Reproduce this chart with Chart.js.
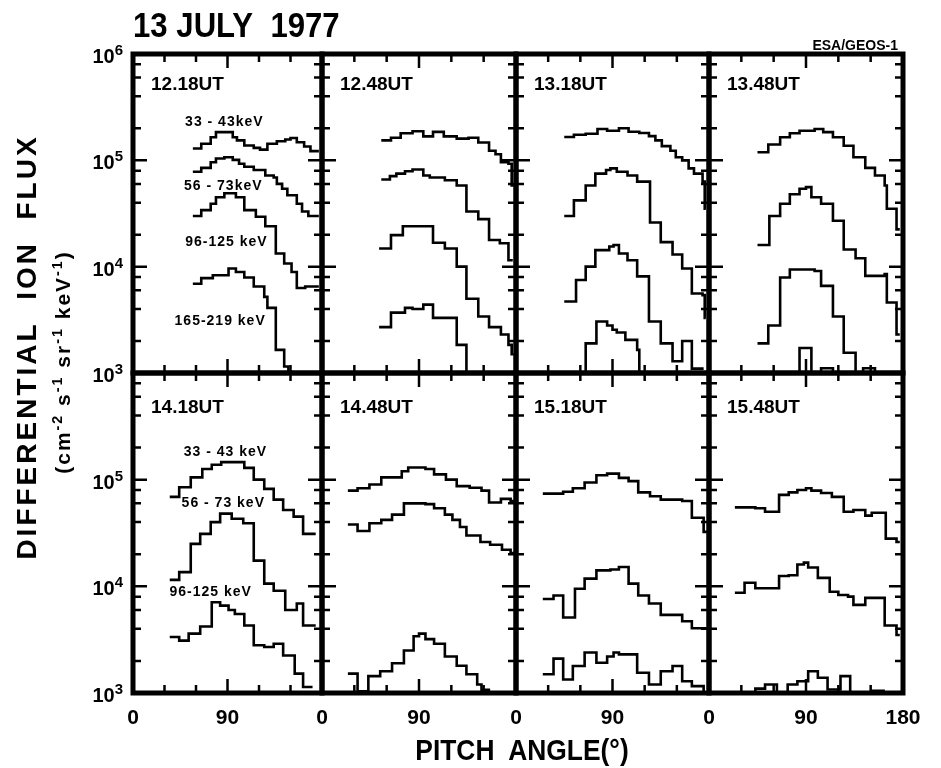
<!DOCTYPE html>
<html>
<head>
<meta charset="utf-8">
<title>13 July 1977 – differential ion flux vs pitch angle</title>
<script src="https://cdn.jsdelivr.net/npm/chart.js@4.4.1/dist/chart.umd.min.js"></script>
<style>
  html, body { margin: 0; padding: 0; background: #fff; }
  #wrap { position: relative; width: 941px; height: 768px; overflow: hidden;
          font-family: "Liberation Sans", Arial, sans-serif; color: #000; }
  #wrap canvas { position: absolute; left: 0; top: 0; }
  .t { position: absolute; white-space: nowrap; line-height: 1; font-weight: bold; }
  .t sup { font-size: 0.68em; vertical-align: 0.5em; line-height: 0; }
</style>
</head>
<body>
<div id="wrap">
  <div class="t" style="left:133px; top:7px; font-size:35px; transform:scaleX(0.89); transform-origin:0 0;">13 JULY&nbsp; 1977</div>
  <div class="t" style="right:43px; top:38px; font-size:14px;">ESA/GEOS-1</div>
  <div class="t" style="left:522px; top:735px; font-size:30px; transform:translateX(-50%) scaleX(0.88);">PITCH&nbsp; ANGLE(°)</div>
  <div class="t" style="left:27px; top:347px; font-size:28px; letter-spacing:3px; transform:translate(-50%,-50%) rotate(-90deg);">DIFFERENTIAL&nbsp; ION&nbsp; FLUX</div>
  <div class="t" style="left:62px; top:362px; font-size:21px; letter-spacing:2px; transform:translate(-50%,-50%) rotate(-90deg);">(cm<sup>-2</sup> s<sup>-1</sup> sr<sup>-1</sup> keV<sup>-1</sup>)</div>
</div>
<script>
// Differential ion flux (cm^-2 s^-1 sr^-1 keV^-1) against pitch angle (deg),
// one step curve per energy channel. Each entry: [bin start angle, flux];
// the last entry closes the final bin.

// 12.18 UT
const ut1218_e33  = [[57,1.29e5],[65,1.43e5],[74,1.65e5],[79,1.84e5],[95,1.65e5],[99,1.54e5],[106,1.38e5],[115,1.31e5],[121,1.26e5],[128,1.43e5],[137,1.51e5],[145,1.57e5],[150,1.62e5],[156,1.48e5],[163,1.35e5],[169,1.22e5],[177,1.22e5]];
const ut1218_e56  = [[57,7.8e4],[65,8.5e4],[74,9.6e4],[79,1.04e5],[87,1.07e5],[95,1.01e5],[101,9.3e4],[106,8.7e4],[115,8.1e4],[126,7.2e4],[134,6.9e4],[137,6.0e4],[142,5.4e4],[147,4.7e4],[156,3.9e4],[161,3.3e4],[167,3.0e4],[177,3.0e4]];
const ut1218_e96  = [[57,3.0e4],[65,3.4e4],[74,3.9e4],[79,4.5e4],[87,4.9e4],[98,4.5e4],[106,3.4e4],[117,2.95e4],[126,2.4e4],[136,1.33e4],[144,1.07e4],[151,8.9e3],[156,6.3e3],[164,6.5e3],[177,6.5e3]];
const ut1218_e165 = [[57,6.9e3],[65,7.8e3],[76,8.3e3],[91,9.6e3],[98,8.9e3],[106,7.9e3],[115,6.5e3],[125,5.2e3],[128,4.1e3],[136,1.65e3],[144,1.15e3],[148,1.02e3],[153,1.02e3]];

// 12.48 UT
const ut1248_e33  = [[55,1.54e5],[64,1.63e5],[73,1.8e5],[84,1.88e5],[94,1.68e5],[103,1.85e5],[113,1.68e5],[125,1.6e5],[136,1.63e5],[145,1.47e5],[155,1.23e5],[161,1.14e5],[166,9.6e4],[173,9.3e4],[176,5.8e4],[178,5.8e4]];
const ut1248_e56  = [[55,6.6e4],[63,7.1e4],[69,7.5e4],[77,7.9e4],[84,8.2e4],[94,7.2e4],[100,6.9e4],[114,6.5e4],[125,5.8e4],[134,3.3e4],[145,2.8e4],[155,1.78e4],[165,1.66e4],[173,1.15e4],[177,1.15e4]];
const ut1248_e96  = [[53,1.48e4],[64,1.98e4],[75,2.4e4],[103,1.68e4],[114,1.48e4],[125,1.0e4],[134,5.0e3],[145,3.4e3],[155,2.7e3],[166,2.3e3],[173,1.84e3],[176,1.5e3],[178,1.5e3]];
const ut1248_e165 = [[53,2.7e3],[64,3.7e3],[77,4.1e3],[84,4.0e3],[94,4.4e3],[103,3.3e3],[125,1.84e3],[134,600],[136,600]];

// 13.18 UT
const ut1318_e33  = [[45,1.66e5],[54,1.74e5],[65,1.78e5],[76,1.97e5],[85,1.9e5],[96,2.0e5],[105,1.86e5],[115,1.81e5],[124,1.69e5],[130,1.54e5],[136,1.36e5],[144,1.23e5],[149,1.07e5],[155,1.0e5],[161,8.4e4],[166,7.5e4],[174,6.3e4],[176,3.5e4],[177,3.5e4]];
const ut1318_e56  = [[45,3.0e4],[54,4.2e4],[65,5.8e4],[74,7.5e4],[84,8.1e4],[88,8.4e4],[94,7.8e4],[104,7.2e4],[113,6.3e4],[125,2.6e4],[135,1.7e4],[146,1.3e4],[155,9.6e3],[164,5.6e3],[174,5.4e3],[176,3.3e3],[177,3.3e3]];
const ut1318_e96  = [[45,4.7e3],[56,7.5e3],[65,1.0e4],[74,1.43e4],[87,1.55e4],[91,1.6e4],[96,1.33e4],[104,1.15e4],[113,8.1e3],[124,3.05e3],[135,1.9e3],[146,1.29e3],[155,2.0e3],[164,1.1e3],[175,1.1e3]];
const ut1318_e165 = [[58,500],[65,1.9e3],[75,3.05e3],[85,2.8e3],[90,2.55e3],[94,2.4e3],[102,2.05e3],[113,1.65e3],[115,500],[117,500]];

// 13.48 UT
const ut1348_e33  = [[45,1.19e5],[55,1.41e5],[66,1.65e5],[75,1.8e5],[84,1.9e5],[98,1.97e5],[106,1.84e5],[115,1.65e5],[125,1.37e5],[134,1.07e5],[145,8.5e4],[154,7.2e4],[163,5.8e4],[165,3.5e4],[174,2.24e4],[177,2.24e4]];
const ut1348_e56  = [[45,1.6e4],[56,3.0e4],[66,3.9e4],[75,4.8e4],[84,5.4e4],[90,5.6e4],[95,4.5e4],[104,3.9e4],[115,2.7e4],[125,1.45e4],[136,1.2e4],[145,8.2e3],[163,8.5e3],[165,4.6e3],[174,2.3e3],[177,2.3e3]];
const ut1348_e96  = [[45,1.9e3],[55,2.8e3],[66,7.9e3],[75,9.4e3],[98,9.1e3],[104,6.6e3],[115,3.4e3],[125,1.55e3],[136,500],[138,500]];
const ut1348_e165 = [[80,600],[84,1.72e3],[95,600],[104,1.11e3],[115,600],[143,1.11e3],[154,600],[156,600]];

// 14.18 UT
const ut1418_e33  = [[35,6.9e4],[44,8.5e4],[55,1.05e5],[66,1.26e5],[75,1.38e5],[84,1.46e5],[106,1.29e5],[115,1.0e5],[125,8.2e4],[134,6.5e4],[143,5.2e4],[153,4.5e4],[162,3.1e4],[174,3.1e4]];
const ut1418_e56  = [[35,1.15e4],[44,1.36e4],[55,2.5e4],[64,3.1e4],[74,4.0e4],[83,4.8e4],[94,4.3e4],[105,3.9e4],[115,1.74e4],[125,1.06e4],[134,9.1e3],[145,6.0e3],[156,6.9e3],[162,4.3e3],[174,4.3e3]];
const ut1418_e96  = [[35,3.35e3],[44,3.1e3],[53,3.6e3],[64,4.2e3],[75,7.1e3],[83,6.6e3],[91,6.0e3],[97,5.5e3],[106,4.3e3],[115,2.8e3],[125,2.7e3],[134,2.9e3],[143,2.25e3],[154,1.52e3],[162,1.14e3],[171,1.14e3]];

// 14.48 UT
const ut1448_e33  = [[24,7.9e4],[33,8.3e4],[44,9.0e4],[55,1.05e5],[74,1.2e5],[80,1.3e5],[96,1.26e5],[104,1.12e5],[115,1.0e5],[125,8.7e4],[137,8.4e4],[148,7.9e4],[155,6.1e4],[166,6.6e4],[175,6.3e4],[178,6.3e4]];
const ut1448_e56  = [[24,3.8e4],[33,3.3e4],[44,3.9e4],[55,4.2e4],[65,4.7e4],[76,6.0e4],[96,5.9e4],[104,5.4e4],[114,4.7e4],[121,4.2e4],[128,3.6e4],[134,3.0e4],[147,2.6e4],[156,2.45e4],[167,2.2e4],[175,2.05e4],[178,2.05e4]];
const ut1448_e96  = [[24,1.52e3],[33,1.04e3],[43,1.44e3],[54,1.6e3],[65,1.9e3],[76,2.5e3],[85,3.4e3],[90,3.6e3],[96,3.2e3],[104,2.9e3],[114,2.2e3],[125,1.8e3],[134,1.5e3],[144,1.2e3],[148,1.07e3],[156,1.07e3]];

// 15.18 UT
const ut1518_e33  = [[25,7.4e4],[44,7.7e4],[53,8.3e4],[64,9.4e4],[75,1.1e5],[85,1.14e5],[96,1.04e5],[105,9.7e4],[114,7.6e4],[125,7.0e4],[135,6.5e4],[155,6.3e4],[164,4.4e4],[175,3.24e4],[178,3.24e4]];
const ut1518_e56  = [[25,7.6e3],[35,8.2e3],[44,5.1e3],[55,9.5e3],[64,1.18e4],[75,1.41e4],[88,1.44e4],[96,1.52e4],[105,1.06e4],[114,8.2e3],[124,6.9e3],[135,5.4e3],[155,4.7e3],[164,4.05e3],[178,4.05e3]];
const ut1518_e96  = [[25,1.5e3],[35,2.1e3],[44,1.34e3],[53,1.79e3],[64,2.4e3],[75,1.92e3],[85,2.2e3],[91,2.4e3],[96,2.3e3],[113,1.55e3],[124,1.2e3],[135,1.6e3],[146,1.79e3],[155,1.29e3],[164,1.16e3],[175,1.0e3],[177,1.0e3]];

// 15.48 UT
const ut1548_e33  = [[24,5.5e4],[43,5.4e4],[52,5.0e4],[65,7.2e4],[74,7.6e4],[82,8.0e4],[90,8.3e4],[95,7.9e4],[104,7.5e4],[114,6.9e4],[125,5.0e4],[134,5.2e4],[145,4.6e4],[151,4.9e4],[164,2.8e4],[174,2.6e4],[177,2.6e4]];
const ut1548_e56  = [[24,8.7e3],[33,1.08e4],[43,9.6e3],[65,1.25e4],[74,1.27e4],[82,1.6e4],[88,1.67e4],[92,1.5e4],[101,1.2e4],[112,8.9e3],[120,8.3e3],[129,8.0e3],[134,6.7e3],[145,7.8e3],[163,4.3e3],[174,3.5e3],[177,3.5e3]];
const ut1548_e96  = [[40,700],[43,1.1e3],[52,1.2e3],[63,700],[73,1.2e3],[82,1.29e3],[92,1.6e3],[101,1.39e3],[110,1.08e3],[122,1.44e3],[131,700],[151,1.05e3],[162,700],[165,700]];

// Channel names, panel times, axis ticks
const bands = ['33-43 keV', '56-73 keV', '96-125 keV', '165-219 keV'];
const times = ['12.18UT', '12.48UT', '13.18UT', '13.48UT', '14.18UT', '14.48UT', '15.18UT', '15.48UT'];
const seriesByPanel = [
  [ut1218_e33, ut1218_e56, ut1218_e96, ut1218_e165],
  [ut1248_e33, ut1248_e56, ut1248_e96, ut1248_e165],
  [ut1318_e33, ut1318_e56, ut1318_e96, ut1318_e165],
  [ut1348_e33, ut1348_e56, ut1348_e96, ut1348_e165],
  [ut1418_e33, ut1418_e56, ut1418_e96],
  [ut1448_e33, ut1448_e56, ut1448_e96],
  [ut1518_e33, ut1518_e56, ut1518_e96],
  [ut1548_e33, ut1548_e56, ut1548_e96]
];
const pitchTicks = [0, 30, 60, 90, 120, 150, 180];
const fluxTicks = [1e3, 2e3, 4e3, 6e3, 8e3, 1e4, 2e4, 4e4, 6e4, 8e4, 1e5, 2e5, 4e5, 6e5, 8e5, 1e6];

// Channel tags written inside the left-hand panels: [text, angle, flux]
const channelTags = {
  0: [['33 - 43keV', 87, 2.3e5], ['56 - 73keV', 86, 5.7e4], ['96-125 keV', 89, 1.7e4], ['165-219 keV', 83, 3.1e3]],
  4: [['33 - 43 keV', 88, 1.8e5], ['56 - 73 keV', 86, 6.0e4], ['96-125 keV', 74, 8.9e3]]
};

// Page geometry of the 4 x 2 panel grid
const W = 941, H = 768;
const EDGE_X = [133, 322, 516, 709, 903];
const EDGE_Y = [54, 373, 693];
const LABEL_BAND = 50;   // room under the lower row for the angle labels
const FONT = '"Liberation Sans", Arial, sans-serif';

function isDecade(v) {
  const l = Math.log10(v);
  return Math.abs(l - Math.round(l)) < 1e-9;
}

// Frame, inward ticks, panel time, channel tags and the 10^n labels
const panelDecor = {
  id: 'panelDecor',
  afterDatasetsDraw(chart, args, o) {
    const ctx = chart.ctx, a = chart.chartArea;
    const xs = chart.scales.x, ys = chart.scales.y;
    ctx.save();
    ctx.strokeStyle = '#000';
    ctx.fillStyle = '#000';

    ctx.lineWidth = 2.5;
    ctx.beginPath();
    ys.ticks.forEach(t => {
      if (t.value <= ys.min || t.value >= ys.max) return;
      const p = ys.getPixelForValue(t.value);
      const len = isDecade(t.value) ? 14 : 8;
      ctx.moveTo(a.left, p); ctx.lineTo(a.left + len, p);
      ctx.moveTo(a.right, p); ctx.lineTo(a.right - len, p);
    });
    xs.ticks.forEach(t => {
      if (t.value <= xs.min || t.value >= xs.max) return;
      const p = xs.getPixelForValue(t.value);
      const len = t.value === 90 ? 14 : 8;
      ctx.moveTo(p, a.top); ctx.lineTo(p, a.top + len);
      ctx.moveTo(p, a.bottom); ctx.lineTo(p, a.bottom - len);
    });
    ctx.stroke();

    ctx.lineWidth = 5;
    ctx.strokeRect(a.left, a.top, a.right - a.left, a.bottom - a.top);

    ctx.font = 'bold 19px ' + FONT;
    ctx.textAlign = 'left';
    ctx.textBaseline = 'alphabetic';
    ctx.fillText(o.time, a.left + 18, a.top + o.timeDy);

    if (o.tags) {
      ctx.font = 'bold 14px ' + FONT;
      ctx.letterSpacing = '1px';
      ctx.textAlign = 'center';
      ctx.textBaseline = 'middle';
      o.tags.forEach(([txt, ang, flux]) => {
        ctx.fillText(txt, xs.getPixelForValue(ang), ys.getPixelForValue(flux));
      });
      ctx.letterSpacing = '0px';
    }

    if (o.powers) {
      ctx.textBaseline = 'alphabetic';
      ctx.textAlign = 'right';
      o.powers.forEach(v => {
        const p = ys.getPixelForValue(v);
        const exp = String(Math.round(Math.log10(v)));
        ctx.font = 'bold 15px ' + FONT;
        const xr = a.left - 10;
        ctx.fillText(exp, xr, p + 1);
        const ew = ctx.measureText(exp).width;
        ctx.font = 'bold 20px ' + FONT;
        ctx.fillText('10', xr - ew, p + 9);
      });
    }
    ctx.restore();
  }
};

const wrap = document.getElementById('wrap');

seriesByPanel.forEach((series, i) => {
  const col = i % 4, row = Math.floor(i / 4);
  const canvas = document.createElement('canvas');
  canvas.width = W; canvas.height = H;
  wrap.insertBefore(canvas, wrap.firstChild);

  const lastCol = col === 3;
  const band = row === 1 ? LABEL_BAND : 0;
  new Chart(canvas, {
    type: 'line',
    data: {
      datasets: series.map((pts, k) => ({
        label: bands[k],
        data: pts,
        stepped: true,
        borderColor: '#000',
        borderWidth: 2.6,
        pointRadius: 0,
        fill: false
      }))
    },
    options: {
      responsive: false,
      animation: false,
      devicePixelRatio: 1,
      events: [],
      layout: {
        padding: {
          left: EDGE_X[col], right: W - EDGE_X[col + 1],
          top: EDGE_Y[row], bottom: H - EDGE_Y[row + 1] - band
        }
      },
      plugins: {
        legend: { display: false },
        tooltip: { enabled: false },
        panelDecor: {
          time: times[i],
          timeDy: row === 0 ? 36 : 40,
          tags: channelTags[i] || null,
          powers: col === 0 ? (row === 0 ? [1e3, 1e4, 1e5, 1e6] : [1e3, 1e4, 1e5]) : null
        }
      },
      scales: {
        x: {
          type: 'linear',
          min: 0, max: 180,
          afterBuildTicks: s => { s.ticks = pitchTicks.map(v => ({ value: v })); },
          afterFit: s => { s.height = band; },
          grid: { display: false, drawTicks: false },
          border: { display: false },
          ticks: {
            display: row === 1,
            autoSkip: false,
            maxRotation: 0,
            minRotation: 0,
            padding: 13,
            color: '#000',
            font: { family: FONT, size: 21, weight: 'bold' },
            callback: v => (v === 0 || v === 90 || (v === 180 && lastCol)) ? String(v) : ''
          }
        },
        y: {
          type: 'logarithmic',
          min: 1e3, max: 1e6,
          afterBuildTicks: s => { s.ticks = fluxTicks.map(v => ({ value: v })); },
          afterFit: s => { s.width = 0; },
          grid: { display: false, drawTicks: false },
          border: { display: false },
          ticks: { display: false }
        }
      }
    },
    plugins: [panelDecor]
  });
});
</script>
</body>
</html>
